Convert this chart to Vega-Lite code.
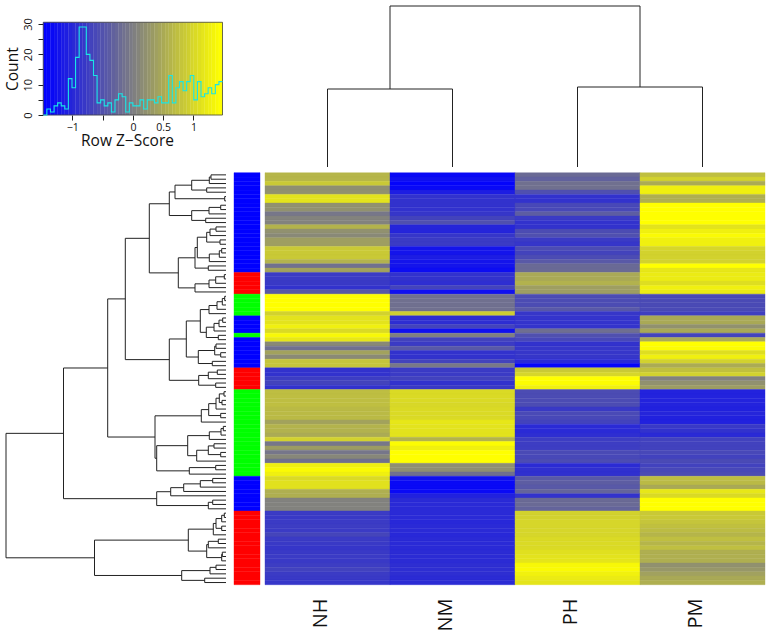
{
"$schema":"https://vega.github.io/schema/vega-lite/v6.json",
"width":770,"height":632,"autosize":{"type":"fit","contains":"padding"},"padding":0,
"background":"white",
"config":{"view":{"stroke":null},"font":"Open Sans"},
"datasets":{
"heat":[
{"row":0,"side":"blue","NH":0.63,"NM":-1.38,"PH":-0.25,"PM":0.73},
{"row":1,"side":"blue","NH":0.63,"NM":-1.3,"PH":-0.35,"PM":0.95},
{"row":2,"side":"blue","NH":0.85,"NM":-1.43,"PH":-0.18,"PM":0.5},
{"row":3,"side":"blue","NH":0.17,"NM":-1.38,"PH":-0.18,"PM":1.3},
{"row":4,"side":"blue","NH":0.2,"NM":-1.15,"PH":-0.55,"PM":1.3},
{"row":5,"side":"blue","NH":1.15,"NM":-0.9,"PH":-0.9,"PM":0.55},
{"row":6,"side":"blue","NH":1.15,"NM":-0.9,"PH":-0.9,"PM":0.55},
{"row":7,"side":"blue","NH":0.2,"NM":-0.9,"PH":-0.65,"PM":1.48},
{"row":8,"side":"blue","NH":0.2,"NM":-0.9,"PH":-0.65,"PM":1.48},
{"row":9,"side":"blue","NH":-0.1,"NM":-0.85,"PH":-0.4,"PM":1.48},
{"row":10,"side":"blue","NH":0.03,"NM":-0.7,"PH":-0.8,"PM":1.48},
{"row":11,"side":"blue","NH":0.02,"NM":-0.55,"PH":-0.9,"PM":1.48},
{"row":12,"side":"blue","NH":0.6,"NM":-1.05,"PH":-0.9,"PM":1.15},
{"row":13,"side":"blue","NH":0.2,"NM":-1.05,"PH":-0.6,"PM":1.3},
{"row":14,"side":"blue","NH":0.1,"NM":-0.85,"PH":-0.55,"PM":1.42},
{"row":15,"side":"blue","NH":0.35,"NM":-0.8,"PH":-0.8,"PM":1.3},
{"row":16,"side":"blue","NH":0.35,"NM":-0.8,"PH":-0.85,"PM":1.3},
{"row":17,"side":"blue","NH":0.85,"NM":-1.25,"PH":-0.6,"PM":1.0},
{"row":18,"side":"blue","NH":0.85,"NM":-1.25,"PH":-0.7,"PM":0.95},
{"row":19,"side":"blue","NH":0.85,"NM":-1.15,"PH":-0.6,"PM":0.95},
{"row":20,"side":"blue","NH":0.58,"NM":-1.25,"PH":-0.45,"PM":0.95},
{"row":21,"side":"blue","NH":-0.18,"NM":-1.25,"PH":-0.25,"PM":1.48},
{"row":22,"side":"blue","NH":0.4,"NM":-1.33,"PH":-0.25,"PM":1.2},
{"row":23,"side":"red","NH":-0.8,"NM":-0.9,"PH":0.48,"PM":1.25},
{"row":24,"side":"red","NH":-0.8,"NM":-0.9,"PH":0.48,"PM":1.25},
{"row":25,"side":"red","NH":-0.82,"NM":-0.95,"PH":0.58,"PM":1.1},
{"row":26,"side":"red","NH":-0.9,"NM":-0.7,"PH":0.35,"PM":1.3},
{"row":27,"side":"red","NH":-0.45,"NM":-1.3,"PH":0.35,"PM":1.25},
{"row":28,"side":"green","NH":1.48,"NM":-0.18,"PH":-0.6,"PM":-0.62},
{"row":29,"side":"green","NH":1.48,"NM":-0.18,"PH":-0.6,"PM":-0.62},
{"row":30,"side":"green","NH":1.48,"NM":-0.18,"PH":-0.6,"PM":-0.62},
{"row":31,"side":"green","NH":1.48,"NM":-0.18,"PH":-0.45,"PM":-0.62},
{"row":32,"side":"green","NH":0.95,"NM":0.9,"PH":-0.85,"PM":-0.75},
{"row":33,"side":"blue","NH":1.15,"NM":-0.95,"PH":-0.88,"PM":0.48},
{"row":34,"side":"blue","NH":1.15,"NM":-0.95,"PH":-0.88,"PM":0.48},
{"row":35,"side":"blue","NH":1.3,"NM":-0.7,"PH":-0.88,"PM":0.2},
{"row":36,"side":"blue","NH":1.05,"NM":-1.3,"PH":-0.2,"PM":0.48},
{"row":37,"side":"green","NH":1.4,"NM":0,"PH":-0.55,"PM":-0.7},
{"row":38,"side":"blue","NH":1.2,"NM":-0.7,"PH":-0.65,"PM":0.5},
{"row":39,"side":"blue","NH":0.1,"NM":-0.8,"PH":-0.9,"PM":1.48},
{"row":40,"side":"blue","NH":-0.18,"NM":-0.45,"PH":-0.85,"PM":1.45},
{"row":41,"side":"blue","NH":0.4,"NM":-0.9,"PH":-0.85,"PM":1.1},
{"row":42,"side":"blue","NH":0.12,"NM":-0.9,"PH":-0.85,"PM":1.3},
{"row":43,"side":"blue","NH":0.8,"NM":-0.7,"PH":-1.0,"PM":0.95},
{"row":44,"side":"blue","NH":0.8,"NM":-0.08,"PH":-1.42,"PM":0.5},
{"row":45,"side":"red","NH":-0.9,"NM":-0.8,"PH":0.85,"PM":0.75},
{"row":46,"side":"red","NH":-0.9,"NM":-0.8,"PH":1.0,"PM":0.95},
{"row":47,"side":"red","NH":-0.78,"NM":-0.72,"PH":1.48,"PM":0.02},
{"row":48,"side":"red","NH":-0.7,"NM":-0.9,"PH":1.45,"PM":0.2},
{"row":49,"side":"red","NH":-0.9,"NM":-0.82,"PH":1.3,"PM":0.33},
{"row":50,"side":"green","NH":0.72,"NM":1.05,"PH":-0.6,"PM":-1.08},
{"row":51,"side":"green","NH":0.72,"NM":1.05,"PH":-0.6,"PM":-1.08},
{"row":52,"side":"green","NH":0.72,"NM":1.05,"PH":-0.6,"PM":-1.08},
{"row":53,"side":"green","NH":0.73,"NM":1.02,"PH":-0.6,"PM":-1.08},
{"row":54,"side":"green","NH":0.68,"NM":1.05,"PH":-0.82,"PM":-1.1},
{"row":55,"side":"green","NH":0.68,"NM":1.05,"PH":-0.63,"PM":-1.05},
{"row":56,"side":"green","NH":0.68,"NM":1.05,"PH":-0.65,"PM":-1.1},
{"row":57,"side":"green","NH":0.4,"NM":1.2,"PH":-0.7,"PM":-1.1},
{"row":58,"side":"green","NH":0.6,"NM":1.15,"PH":-1.0,"PM":-0.82},
{"row":59,"side":"green","NH":0.58,"NM":1.15,"PH":-1.0,"PM":-0.9},
{"row":60,"side":"green","NH":0.5,"NM":1.15,"PH":-0.95,"PM":-1.0},
{"row":61,"side":"green","NH":0.95,"NM":0.6,"PH":-0.78,"PM":-0.72},
{"row":62,"side":"green","NH":-0.1,"NM":1.45,"PH":-0.78,"PM":-0.72},
{"row":63,"side":"green","NH":0.33,"NM":1.3,"PH":-0.78,"PM":-0.72},
{"row":64,"side":"green","NH":-0.12,"NM":1.48,"PH":-0.62,"PM":-0.65},
{"row":65,"side":"green","NH":0.08,"NM":1.48,"PH":-0.65,"PM":-0.72},
{"row":66,"side":"green","NH":-0.18,"NM":1.48,"PH":-0.6,"PM":-0.62},
{"row":67,"side":"green","NH":1.3,"NM":0.17,"PH":-0.98,"PM":-0.72},
{"row":68,"side":"green","NH":1.42,"NM":0.17,"PH":-0.92,"PM":-0.65},
{"row":69,"side":"green","NH":1.3,"NM":-0.18,"PH":-0.92,"PM":-0.6},
{"row":70,"side":"blue","NH":1.05,"NM":-1.28,"PH":-0.45,"PM":0.72},
{"row":71,"side":"blue","NH":1.13,"NM":-1.38,"PH":-0.4,"PM":0.68},
{"row":72,"side":"blue","NH":1.13,"NM":-1.38,"PH":-0.45,"PM":0.48},
{"row":73,"side":"blue","NH":0.55,"NM":-1.38,"PH":-0.32,"PM":1.2},
{"row":74,"side":"blue","NH":0.55,"NM":-1.1,"PH":-0.9,"PM":1.05},
{"row":75,"side":"blue","NH":0.02,"NM":-1.0,"PH":-0.25,"PM":1.48},
{"row":76,"side":"blue","NH":0.02,"NM":-1.0,"PH":-0.25,"PM":1.48},
{"row":77,"side":"blue","NH":0.02,"NM":-1.0,"PH":-0.32,"PM":1.48},
{"row":78,"side":"red","NH":-0.8,"NM":-1.0,"PH":0.95,"PM":0.85},
{"row":79,"side":"red","NH":-0.82,"NM":-1.0,"PH":0.95,"PM":0.85},
{"row":80,"side":"red","NH":-0.8,"NM":-1.02,"PH":1.0,"PM":0.8},
{"row":81,"side":"red","NH":-0.78,"NM":-1.0,"PH":1.0,"PM":0.75},
{"row":82,"side":"red","NH":-0.8,"NM":-1.0,"PH":1.0,"PM":0.7},
{"row":83,"side":"red","NH":-0.68,"NM":-1.02,"PH":1.0,"PM":0.62},
{"row":84,"side":"red","NH":-0.8,"NM":-1.0,"PH":1.05,"PM":0.73},
{"row":85,"side":"red","NH":-0.82,"NM":-1.0,"PH":1.05,"PM":0.62},
{"row":86,"side":"red","NH":-0.85,"NM":-1.0,"PH":1.05,"PM":0.73},
{"row":87,"side":"red","NH":-0.82,"NM":-0.98,"PH":1.12,"PM":0.55},
{"row":88,"side":"red","NH":-0.8,"NM":-0.98,"PH":1.15,"PM":0.55},
{"row":89,"side":"red","NH":-0.82,"NM":-0.98,"PH":1.18,"PM":0.55},
{"row":90,"side":"red","NH":-0.78,"NM":-0.95,"PH":1.4,"PM":0.2},
{"row":91,"side":"red","NH":-0.72,"NM":-0.95,"PH":1.42,"PM":0.27},
{"row":92,"side":"red","NH":-0.8,"NM":-0.95,"PH":1.32,"PM":0.38},
{"row":93,"side":"red","NH":-0.82,"NM":-0.98,"PH":1.25,"PM":0.48},
{"row":94,"side":"red","NH":-0.85,"NM":-0.98,"PH":1.17,"PM":0.55}
],
"rowtree":[
{"h":15,"a":0,"ha":0,"b":1,"hb":0},
{"h":16.7,"a":0.5,"ha":15,"b":2,"hb":0},
{"h":19.3,"a":3,"ha":0,"b":4,"hb":0},
{"h":34.3,"a":1.25,"ha":16.7,"b":3.5,"hb":19.3},
{"h":1.3,"a":5,"ha":0,"b":6,"hb":0},
{"h":51,"a":2.375,"ha":34.3,"b":5.5,"hb":1.3},
{"h":5.3,"a":7,"ha":0,"b":8,"hb":0},
{"h":17,"a":7.5,"ha":5.3,"b":9,"hb":0},
{"h":20.3,"a":10,"ha":0,"b":11,"hb":0},
{"h":34.3,"a":8.25,"ha":17,"b":10.5,"hb":20.3},
{"h":56.7,"a":3.94,"ha":51,"b":9.375,"hb":34.3},
{"h":10,"a":12,"ha":0,"b":13,"hb":0},
{"h":16,"a":12.5,"ha":10,"b":14,"hb":0},
{"h":6,"a":15,"ha":0,"b":16,"hb":0},
{"h":19.3,"a":13.25,"ha":16,"b":15.5,"hb":6},
{"h":4.3,"a":17,"ha":0,"b":18,"hb":0},
{"h":6.7,"a":17.5,"ha":4.3,"b":19,"hb":0},
{"h":16.7,"a":18.25,"ha":6.7,"b":20,"hb":0},
{"h":28.7,"a":14.375,"ha":19.3,"b":19.125,"hb":16.7},
{"h":17.7,"a":21,"ha":0,"b":22,"hb":0},
{"h":31,"a":16.75,"ha":28.7,"b":21.5,"hb":17.7},
{"h":1.7,"a":23,"ha":0,"b":24,"hb":0},
{"h":10.3,"a":23.5,"ha":1.7,"b":25,"hb":0},
{"h":17,"a":24.25,"ha":10.3,"b":26,"hb":0},
{"h":31,"a":25.125,"ha":17,"b":27,"hb":0},
{"h":47.7,"a":19.125,"ha":31,"b":26.06,"hb":31},
{"h":76.7,"a":6.66,"ha":56.7,"b":22.6,"hb":47.7},
{"h":1.3,"a":28,"ha":0,"b":29,"hb":0},
{"h":3.7,"a":28.5,"ha":1.3,"b":30,"hb":0},
{"h":9,"a":29.25,"ha":3.7,"b":31,"hb":0},
{"h":17,"a":30.125,"ha":9,"b":32,"hb":0},
{"h":3.3,"a":33,"ha":0,"b":34,"hb":0},
{"h":7,"a":33.5,"ha":3.3,"b":35,"hb":0},
{"h":12,"a":34.25,"ha":7,"b":36,"hb":0},
{"h":7.7,"a":37,"ha":0,"b":38,"hb":0},
{"h":19.7,"a":35.125,"ha":12,"b":37.5,"hb":7.7},
{"h":25.7,"a":31.06,"ha":17,"b":36.31,"hb":19.7},
{"h":10,"a":39,"ha":0,"b":40,"hb":0},
{"h":5.3,"a":41,"ha":0,"b":42,"hb":0},
{"h":11.3,"a":39.5,"ha":10,"b":41.5,"hb":5.3},
{"h":13.7,"a":43,"ha":0,"b":44,"hb":0},
{"h":27.7,"a":40.5,"ha":11.3,"b":43.5,"hb":13.7},
{"h":39.7,"a":33.69,"ha":25.7,"b":42,"hb":27.7},
{"h":8.7,"a":45,"ha":0,"b":46,"hb":0},
{"h":17.7,"a":45.5,"ha":8.7,"b":47,"hb":0},
{"h":10.3,"a":48,"ha":0,"b":49,"hb":0},
{"h":27.3,"a":46.25,"ha":17.7,"b":48.5,"hb":10.3},
{"h":56.7,"a":37.84,"ha":39.7,"b":47.375,"hb":27.3},
{"h":100.7,"a":14.63,"ha":76.7,"b":42.6,"hb":56.7},
{"h":2,"a":50,"ha":0,"b":51,"hb":0},
{"h":4,"a":52,"ha":0,"b":53,"hb":0},
{"h":6.7,"a":50.5,"ha":2,"b":52.5,"hb":4},
{"h":10,"a":51.5,"ha":6.7,"b":54,"hb":0},
{"h":5.3,"a":55,"ha":0,"b":56,"hb":0},
{"h":17.3,"a":52.75,"ha":10,"b":55.5,"hb":5.3},
{"h":24.7,"a":54.125,"ha":17.3,"b":57,"hb":0},
{"h":2.7,"a":58,"ha":0,"b":59,"hb":0},
{"h":5,"a":58.5,"ha":2.7,"b":60,"hb":0},
{"h":16.7,"a":59.25,"ha":5,"b":61,"hb":0},
{"h":12,"a":62,"ha":0,"b":63,"hb":0},
{"h":5.3,"a":64,"ha":0,"b":65,"hb":0},
{"h":17.7,"a":62.5,"ha":12,"b":64.5,"hb":5.3},
{"h":29.3,"a":63.5,"ha":17.7,"b":66,"hb":0},
{"h":38.3,"a":60.125,"ha":16.7,"b":64.75,"hb":29.3},
{"h":10.3,"a":67,"ha":0,"b":68,"hb":0},
{"h":36.7,"a":67.5,"ha":10.3,"b":69,"hb":0},
{"h":69.3,"a":62.44,"ha":38.3,"b":68.25,"hb":36.7},
{"h":71,"a":55.56,"ha":24.7,"b":65.34,"hb":69.3},
{"h":118.3,"a":28.6,"ha":100.7,"b":60.45,"hb":71},
{"h":13.3,"a":70,"ha":0,"b":71,"hb":0},
{"h":25.7,"a":70.5,"ha":13.3,"b":72,"hb":0},
{"h":42.3,"a":71.25,"ha":25.7,"b":73,"hb":0},
{"h":55.3,"a":72.125,"ha":42.3,"b":74,"hb":0},
{"h":13.3,"a":75,"ha":0,"b":76,"hb":0},
{"h":17.7,"a":75.5,"ha":13.3,"b":77,"hb":0},
{"h":69.3,"a":73.06,"ha":55.3,"b":76.25,"hb":17.7},
{"h":162.5,"a":44.53,"ha":118.3,"b":74.66,"hb":69.3},
{"h":1.7,"a":78,"ha":0,"b":79,"hb":0},
{"h":4.3,"a":78.5,"ha":1.7,"b":80,"hb":0},
{"h":4.3,"a":81,"ha":0,"b":82,"hb":0},
{"h":10,"a":79.25,"ha":4.3,"b":81.5,"hb":4.3},
{"h":12.7,"a":80.375,"ha":10,"b":83,"hb":0},
{"h":7.7,"a":84,"ha":0,"b":85,"hb":0},
{"h":17.7,"a":84.5,"ha":7.7,"b":86,"hb":0},
{"h":3.7,"a":87,"ha":0,"b":88,"hb":0},
{"h":4.3,"a":87.5,"ha":3.7,"b":89,"hb":0},
{"h":19.3,"a":85.25,"ha":17.7,"b":88.25,"hb":4.3},
{"h":37.7,"a":81.69,"ha":12.7,"b":86.75,"hb":19.3},
{"h":10,"a":90,"ha":0,"b":91,"hb":0},
{"h":16,"a":90.5,"ha":10,"b":92,"hb":0},
{"h":21.3,"a":93,"ha":0,"b":94,"hb":0},
{"h":44.3,"a":91.25,"ha":16,"b":93.5,"hb":21.3},
{"h":131.5,"a":84.22,"ha":37.7,"b":92.375,"hb":44.3},
{"h":220,"a":59.6,"ha":162.5,"b":88.3,"hb":131.5}
],
"coltree":[
{"h":78,"a":0,"ha":0,"b":1,"hb":0},
{"h":80,"a":2,"ha":0,"b":3,"hb":0},
{"h":161,"a":0.5,"ha":78,"b":2.5,"hb":80}
],
"hist":[
{"lo":-1.48,"hi":-1.421,"count":0},{"lo":-1.421,"hi":-1.362,"count":2},{"lo":-1.362,"hi":-1.302,"count":1},{"lo":-1.302,"hi":-1.243,"count":3},{"lo":-1.243,"hi":-1.184,"count":4},
{"lo":-1.184,"hi":-1.125,"count":3},{"lo":-1.125,"hi":-1.066,"count":2},{"lo":-1.066,"hi":-1.006,"count":12},{"lo":-1.006,"hi":-0.947,"count":9},{"lo":-0.947,"hi":-0.888,"count":19},
{"lo":-0.888,"hi":-0.829,"count":29},{"lo":-0.829,"hi":-0.77,"count":29},{"lo":-0.77,"hi":-0.71,"count":20},{"lo":-0.71,"hi":-0.651,"count":18},{"lo":-0.651,"hi":-0.592,"count":13},
{"lo":-0.592,"hi":-0.533,"count":4},{"lo":-0.533,"hi":-0.474,"count":5},{"lo":-0.474,"hi":-0.414,"count":3},{"lo":-0.414,"hi":-0.355,"count":4},{"lo":-0.355,"hi":-0.296,"count":1},
{"lo":-0.296,"hi":-0.237,"count":5},{"lo":-0.237,"hi":-0.178,"count":7},{"lo":-0.178,"hi":-0.118,"count":6},{"lo":-0.118,"hi":-0.059,"count":1},{"lo":-0.059,"hi":0,"count":4},
{"lo":0,"hi":0.059,"count":3},{"lo":0.059,"hi":0.118,"count":3},{"lo":0.118,"hi":0.178,"count":5},{"lo":0.178,"hi":0.237,"count":2},{"lo":0.237,"hi":0.296,"count":5},
{"lo":0.296,"hi":0.355,"count":5},{"lo":0.355,"hi":0.414,"count":4},{"lo":0.414,"hi":0.474,"count":6},{"lo":0.474,"hi":0.533,"count":4},{"lo":0.533,"hi":0.592,"count":4},
{"lo":0.592,"hi":0.651,"count":13},{"lo":0.651,"hi":0.71,"count":4},{"lo":0.71,"hi":0.77,"count":9},{"lo":0.77,"hi":0.829,"count":11},{"lo":0.829,"hi":0.888,"count":8},
{"lo":0.888,"hi":0.947,"count":11},{"lo":0.947,"hi":1.006,"count":13},{"lo":1.006,"hi":1.066,"count":5},{"lo":1.066,"hi":1.125,"count":11},{"lo":1.125,"hi":1.184,"count":6},
{"lo":1.184,"hi":1.243,"count":7},{"lo":1.243,"hi":1.302,"count":9},{"lo":1.302,"hi":1.362,"count":7},{"lo":1.362,"hi":1.421,"count":10},{"lo":1.421,"hi":1.48,"count":11}
],
"histline":[
{"z":-1.48,"count":0},{"z":-1.421,"count":2},{"z":-1.362,"count":1},{"z":-1.302,"count":3},{"z":-1.243,"count":4},
{"z":-1.184,"count":3},{"z":-1.125,"count":2},{"z":-1.066,"count":12},{"z":-1.006,"count":9},{"z":-0.947,"count":19},
{"z":-0.888,"count":29},{"z":-0.829,"count":29},{"z":-0.77,"count":20},{"z":-0.71,"count":18},{"z":-0.651,"count":13},
{"z":-0.592,"count":4},{"z":-0.533,"count":5},{"z":-0.474,"count":3},{"z":-0.414,"count":4},{"z":-0.355,"count":1},
{"z":-0.296,"count":5},{"z":-0.237,"count":7},{"z":-0.178,"count":6},{"z":-0.118,"count":1},{"z":-0.059,"count":4},
{"z":0,"count":3},{"z":0.059,"count":3},{"z":0.118,"count":5},{"z":0.178,"count":2},{"z":0.237,"count":5},
{"z":0.296,"count":5},{"z":0.355,"count":4},{"z":0.414,"count":6},{"z":0.474,"count":4},{"z":0.533,"count":4},
{"z":0.592,"count":13},{"z":0.651,"count":4},{"z":0.71,"count":9},{"z":0.77,"count":11},{"z":0.829,"count":8},
{"z":0.888,"count":11},{"z":0.947,"count":13},{"z":1.006,"count":5},{"z":1.066,"count":11},{"z":1.125,"count":6},
{"z":1.184,"count":7},{"z":1.243,"count":9},{"z":1.302,"count":7},{"z":1.362,"count":10},{"z":1.421,"count":11},{"z":1.48,"count":11}
]
},
"resolve":{"scale":{"x":"independent","y":"independent","color":"independent","stroke":"independent"},"axis":{"x":"independent","y":"independent"}},
"layer":[
{"data":{"name":"heat"},"transform":[{"fold":["NH","NM","PH","PM"],"as":["sample","z"]}],
 "mark":{"type":"rect","strokeWidth":0.4},
 "encoding":{
  "x":{"field":"sample","type":"nominal","scale":{"domain":["NH","NM","PH","PM"],"range":[265,765],"padding":0},
   "axis":{"title":null,"orient":"bottom","offset":-47,"domain":false,"ticks":false,"labelAngle":-90,"labelFontSize":20,"labelPadding":13,"labelOffset":-7,"labelColor":"#111","labelFont":"Open Sans"}},
  "y":{"field":"row","type":"ordinal","scale":{"range":[172.7,584.7],"padding":0},"axis":null},
  "color":{"field":"z","type":"quantitative","scale":{"domain":[-1.48,0,1.48],"range":["#0000ff","#808080","#ffff00"],"clamp":true,"interpolate":"rgb"},"legend":null},
  "stroke":{"field":"z","type":"quantitative","scale":{"domain":[-1.48,0,1.48],"range":["#0000ff","#808080","#ffff00"],"clamp":true,"interpolate":"rgb"},"legend":null}
 }},
{"data":{"name":"heat"},
 "mark":{"type":"rect","strokeWidth":0.4},
 "encoding":{
  "x":{"datum":0,"type":"quantitative","scale":{"domain":[0,1],"range":[234,260]},"axis":null},
  "x2":{"datum":1},
  "y":{"field":"row","type":"ordinal","scale":{"range":[172.7,584.7],"padding":0},"axis":null},
  "color":{"field":"side","type":"nominal","scale":{"domain":["blue","red","green"],"range":["#0000ff","#ff0000","#00ff00"]},"legend":null},
  "stroke":{"field":"side","type":"nominal","scale":{"domain":["blue","red","green"],"range":["#0000ff","#ff0000","#00ff00"]},"legend":null}
 }},
{"data":{"name":"rowtree"},
 "layer":[
  {"mark":{"type":"rule","color":"#222","strokeWidth":1},"encoding":{
   "x":{"field":"h","type":"quantitative","scale":{"domain":[0,220],"range":[226,6]},"axis":null},
   "y":{"field":"a","type":"quantitative","scale":{"domain":[-0.5,94.5],"range":[172.7,584.7]},"axis":null},
   "y2":{"field":"b"}}},
  {"mark":{"type":"rule","color":"#222","strokeWidth":1},"encoding":{
   "x":{"field":"h","type":"quantitative","scale":{"domain":[0,220],"range":[226,6]},"axis":null},
   "x2":{"field":"ha"},
   "y":{"field":"a","type":"quantitative","scale":{"domain":[-0.5,94.5],"range":[172.7,584.7]},"axis":null}}},
  {"mark":{"type":"rule","color":"#222","strokeWidth":1},"encoding":{
   "x":{"field":"h","type":"quantitative","scale":{"domain":[0,220],"range":[226,6]},"axis":null},
   "x2":{"field":"hb"},
   "y":{"field":"b","type":"quantitative","scale":{"domain":[-0.5,94.5],"range":[172.7,584.7]},"axis":null}}}
 ]},
{"data":{"name":"coltree"},
 "layer":[
  {"mark":{"type":"rule","color":"#222","strokeWidth":1},"encoding":{
   "y":{"field":"h","type":"quantitative","scale":{"domain":[0,161],"range":[167,6]},"axis":null},
   "x":{"field":"a","type":"quantitative","scale":{"domain":[-0.5,3.5],"range":[265,765]},"axis":null},
   "x2":{"field":"b"}}},
  {"mark":{"type":"rule","color":"#222","strokeWidth":1},"encoding":{
   "y":{"field":"h","type":"quantitative","scale":{"domain":[0,161],"range":[167,6]},"axis":null},
   "y2":{"field":"ha"},
   "x":{"field":"a","type":"quantitative","scale":{"domain":[-0.5,3.5],"range":[265,765]},"axis":null}}},
  {"mark":{"type":"rule","color":"#222","strokeWidth":1},"encoding":{
   "y":{"field":"h","type":"quantitative","scale":{"domain":[0,161],"range":[167,6]},"axis":null},
   "y2":{"field":"hb"},
   "x":{"field":"b","type":"quantitative","scale":{"domain":[-0.5,3.5],"range":[265,765]},"axis":null}}}
 ]},
{"data":{"name":"hist"},
 "layer":[
  {"mark":{"type":"rect","strokeWidth":0.3},"encoding":{
   "x":{"field":"lo","type":"quantitative","scale":{"domain":[-1.48,1.48],"range":[43.3,222.5],"nice":false,"zero":false},
    "axis":{"title":"Row Z−Score","orient":"bottom","offset":-517,"grid":false,"values":[-1,-0.5,0,0.5,1],"tickSize":5,"tickColor":"#222","domain":false,"labelFontSize":10.5,"labelPadding":2,"labelColor":"#111","labelOverlap":false,"labelExpr":"datum.value==-1?'−1':datum.value==-0.5?'':datum.value==0?'0':datum.value==0.5?'0.5':'1'","titleFontSize":15.5,"titleFontWeight":"normal","titleX":127,"titlePadding":1,"titleColor":"#111"}},
   "x2":{"field":"hi"},
   "y":{"datum":0,"type":"quantitative","scale":{"domain":[0,30.56],"range":[115,22.3],"nice":false},
    "axis":{"title":"Count","orient":"left","offset":-43,"grid":false,"values":[0,5,10,15,20,25,30],"tickSize":5,"tickColor":"#222","domain":false,"labelAngle":-90,"labelAlign":"center","labelBaseline":"bottom","labelFontSize":11,"labelPadding":5,"labelColor":"#111","labelOverlap":false,"labelExpr":"datum.value%10==0?datum.label:''","titleFontSize":15.5,"titleFontWeight":"normal","titlePadding":2,"titleColor":"#111"}},
   "y2":{"datum":30.56},
   "color":{"field":"lo","type":"quantitative","scale":{"domain":[-1.48,0,1.421],"range":["#0000ff","#808080","#ffff00"],"interpolate":"rgb"},"legend":null},
   "stroke":{"field":"lo","type":"quantitative","scale":{"domain":[-1.48,0,1.421],"range":["#0000ff","#808080","#ffff00"],"interpolate":"rgb"},"legend":null}
  }},
  {"data":{"values":[{"x0":-1.48,"x1":1.48,"y0":0,"y1":30.56}]},"mark":{"type":"rect","fill":null,"fillOpacity":0,"stroke":"#444","strokeWidth":0.8},"encoding":{
   "x":{"field":"x0","type":"quantitative"},"x2":{"field":"x1"},"y":{"field":"y0","type":"quantitative"},"y2":{"field":"y1"}}},
  {"data":{"name":"histline"},"mark":{"type":"line","interpolate":"step-after","color":"#19e6e6","strokeWidth":1.1},"encoding":{
   "x":{"field":"z","type":"quantitative"},"y":{"field":"count","type":"quantitative"}}}
 ]}
]
}
